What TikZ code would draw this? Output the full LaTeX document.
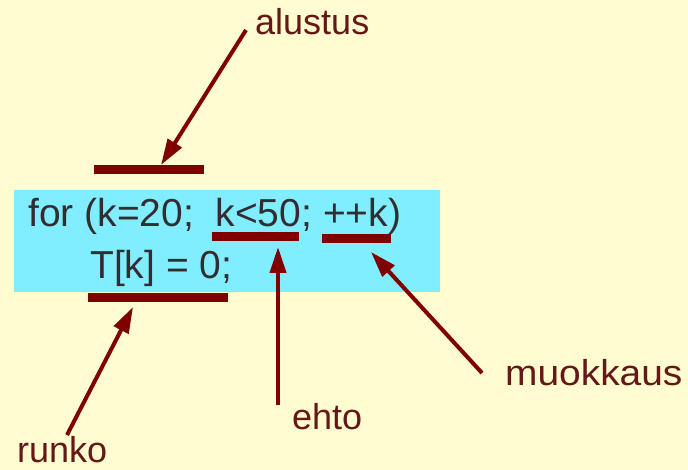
\documentclass[tikz,border=0pt]{standalone}
\usepackage{fontspec}
\setmainfont{Liberation Sans}
\usetikzlibrary{arrows.meta}
\definecolor{bgcol}{RGB}{255,253,208}
\definecolor{boxcol}{RGB}{128,238,255}
\definecolor{barcol}{RGB}{128,0,0}
\definecolor{labcol}{RGB}{100,24,24}
\definecolor{codecol}{RGB}{50,45,50}
\tikzset{
  codetext/.style={anchor=base west, inner sep=0pt, text=codecol, font=\fontsize{39pt}{39pt}\selectfont},
  labeltext/.style={anchor=base west, inner sep=0pt, text=labcol, font=\fontsize{36pt}{36pt}\selectfont},
  ubar/.style={fill=barcol, inner sep=0pt, minimum height=9pt, draw=none},
  arr/.style={draw=barcol, line width=4pt, -{Triangle[length=26pt,width=16pt]}, shorten >=0pt},
}
\begin{document}
\begin{tikzpicture}[x=1pt,y=-1pt]
\fill[bgcol] (0,0) rectangle (688,470);
\useasboundingbox (0,0) rectangle (688,470);
\fill[boxcol] (14,190) rectangle (440,292);
% code text
\node[codetext] (line1) at (28,227) {for (k=20;\ \ k<50; ++k)};
\node[codetext] (line2) at (90,279) {T[k] = 0;};
% bars
\node[ubar, minimum width=110pt] (barA) at (149,170) {};
\node[ubar, minimum width=87pt] (barE) at (255.5,236.5) {};
\node[ubar, minimum width=69pt] (barM) at (356.5,238.5) {};
\node[ubar, minimum width=140pt] (barR) at (158,297.5) {};
% labels
\node[labeltext] (alustus) at (255,35) {alustus};
\node[labeltext] (ehto) at (292,429) {ehto};
\node[labeltext, xscale=1.08] (muokkaus) at (505,385) {muokkaus};
\node[labeltext] (runko) at (17,462) {runko};
% arrow ends
\coordinate (sA) at (246,30);
\coordinate (tA) at (161,165);
\coordinate (sE) at (278,405);
\coordinate (tE) at (278,247);
\coordinate (sM) at (482,373);
\coordinate (tM) at (371,252);
\coordinate (sR) at (67,435);
\coordinate (tR) at (133,307);
\draw[arr] (sA) -- (tA);
\draw[arr] (sE) -- (tE);
\draw[arr] (sM) -- (tM);
\draw[arr] (sR) -- (tR);
\end{tikzpicture}
\end{document}
